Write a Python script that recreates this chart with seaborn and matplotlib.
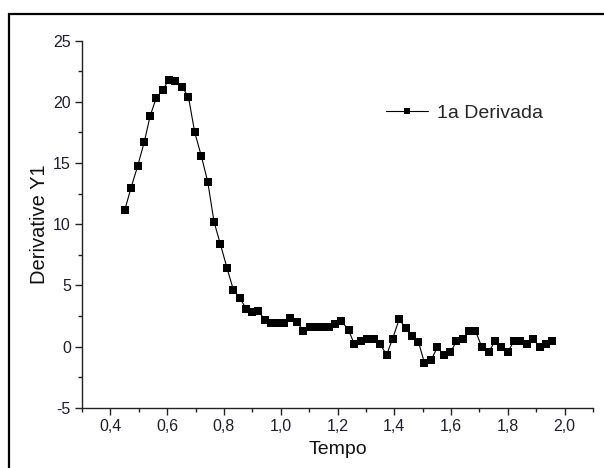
import matplotlib
matplotlib.use("Agg")
import matplotlib.pyplot as plt
import seaborn as sns
import pandas as pd
from matplotlib.patches import Rectangle
from matplotlib.ticker import MultipleLocator, FixedLocator

tempo = [0.451, 0.473, 0.496, 0.519, 0.540, 0.561, 0.585, 0.606, 0.629, 0.653,
         0.675, 0.697, 0.720, 0.743, 0.765, 0.787, 0.811, 0.833, 0.855, 0.878,
         0.900, 0.921, 0.945, 0.967, 0.990, 1.012, 1.034, 1.057, 1.080, 1.102,
         1.125, 1.147, 1.170, 1.192, 1.214, 1.239, 1.259, 1.283, 1.305, 1.327,
         1.350, 1.373, 1.394, 1.417, 1.440, 1.463, 1.485, 1.506, 1.530, 1.552,
         1.574, 1.597, 1.619, 1.641, 1.664, 1.686, 1.708, 1.732, 1.754, 1.777,
         1.799, 1.821, 1.844, 1.866, 1.888, 1.912, 1.934, 1.957]
deriv = [11.2, 13.0, 14.76, 16.7, 18.85, 20.3, 21.0, 21.8, 21.7, 21.2,
         20.4, 17.5, 15.6, 13.45, 10.2, 8.4, 6.4, 4.65, 4.0, 3.1,
         2.85, 2.9, 2.17, 1.95, 1.95, 1.95, 2.3, 1.98, 1.3, 1.57,
         1.57, 1.57, 1.57, 1.84, 2.08, 1.35, 0.2, 0.43, 0.64, 0.64,
         0.2, -0.67, 0.64, 2.22, 1.54, 0.88, 0.39, -1.32, -1.1, -0.04,
         -0.7, -0.48, 0.42, 0.64, 1.29, 1.29, -0.04, -0.48, 0.42, -0.04,
         -0.48, 0.42, 0.42, 0.2, 0.64, -0.02, 0.2, 0.42]

x_ticks = [0.4, 0.6, 0.8, 1.0, 1.2, 1.4, 1.6, 1.8, 2.0]
x_tick_labels = ["0,4", "0,6", "0,8", "1,0", "1,2", "1,4", "1,6", "1,8", "2,0"]
y_ticks = [-5, 0, 5, 10, 15, 20, 25]
y_tick_labels = ["-5", "0", "5", "10", "15", "20", "25"]
series_name = "1a Derivada"

sns.set_style("ticks")
plt.rcParams["font.family"] = ["Liberation Sans", "DejaVu Sans"]

df = pd.DataFrame({"Tempo": tempo, "Derivative Y1": deriv})

fig = plt.figure(figsize=(6.04, 4.68), dpi=100)
ax = fig.add_axes([0.1358, 0.1288, 0.9818 - 0.1358, 0.913 - 0.1288])

sns.lineplot(data=df, x="Tempo", y="Derivative Y1", ax=ax, color="black",
             linewidth=0.8, marker="s", markersize=5.2, markeredgewidth=0,
             markerfacecolor="black", label=series_name)

ax.set_xlim(0.3, 2.1)
ax.set_ylim(-5, 25)
ax.xaxis.set_major_locator(FixedLocator(x_ticks))
ax.set_xticklabels(x_tick_labels)
ax.yaxis.set_major_locator(FixedLocator(y_ticks))
ax.set_yticklabels(y_tick_labels)
ax.xaxis.set_minor_locator(MultipleLocator(0.1))
ax.yaxis.set_minor_locator(MultipleLocator(2.5))

for s in ["top", "right"]:
    ax.spines[s].set_visible(False)
for s in ["left", "bottom"]:
    ax.spines[s].set_linewidth(1.0)
    ax.spines[s].set_color("#222222")

ax.tick_params(axis="both", which="major", direction="out", length=5, width=1,
               labelsize=11.5, labelcolor="#1e1e2a", color="#222222", pad=3)
ax.tick_params(axis="both", which="minor", direction="out", length=3, width=1,
               color="#222222")

ax.set_xlabel("Tempo", fontsize=14, color="#111111", labelpad=5)
ax.set_ylabel("Derivative Y1", fontsize=14.5, color="#111111", labelpad=3)

leg = ax.legend(loc="center left", bbox_to_anchor=(0.595, 0.803), frameon=False,
                fontsize=14, handlelength=2.15, handletextpad=0.45,
                borderaxespad=0, borderpad=0)
for h in leg.legend_handles:
    h.set_markersize(4.5)

fig.patches.append(Rectangle((8.5 / 604, -0.1), 1.2, 1.0 - 14.5 / 468 + 0.1,
                             transform=fig.transFigure, fill=False,
                             edgecolor="black", linewidth=1.6))

fig.savefig("out.png", dpi=100)
